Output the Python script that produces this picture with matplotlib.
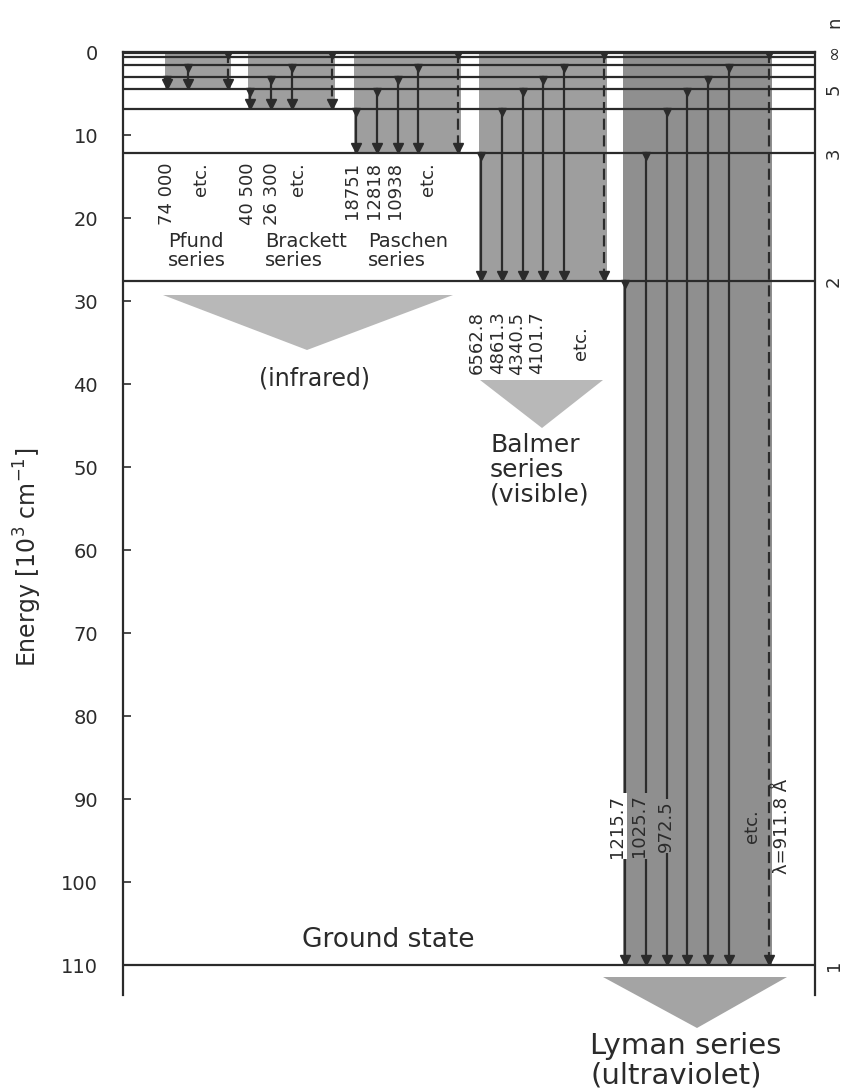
import matplotlib
matplotlib.use('Agg')
import matplotlib.pyplot as plt
from matplotlib.transforms import offset_copy

# energy of each level, measured down from the ionisation limit [10^3 cm^-1]
level_names = ['inf', 8, 7, 6, 5, 4, 3, 2, 1]
level_energy = [0.0, 0.6, 1.6, 3.0, 4.5, 6.9, 12.2, 27.6, 110.0]
E = dict(zip(level_names, level_energy))

series_names = ['Pfund', 'Brackett', 'Paschen', 'Balmer', 'Lyman']
series_lower = [5, 4, 3, 2, 1]
series_upper = [[6, 7, 'inf'],
                [5, 6, 7, 'inf'],
                [4, 5, 6, 7, 'inf'],
                [3, 4, 5, 6, 7, 'inf'],
                [2, 3, 4, 5, 6, 7, 'inf']]
series_labels = [['74 000', 'etc.'],
                 ['40 500', '26 300', 'etc.'],
                 ['18751', '12818', '10938', 'etc.'],
                 ['6562.8', '4861.3', '4340.5', '4101.7', 'etc.'],
                 ['1215.7', '1025.7', '972.5', 'etc.', 'λ=911.8 Å']]

yticks = list(range(0, 111, 10))
right_labels = ['n', '∞', '5', '3', '2', '1']
right_label_levels = [None, 'inf', 5, 3, 2, 1]

# ---- layout (pixel based x axis) ----
W, H = 847, 1091
x0, x1 = 123, 815
ytop, ybot = 52, 995
pxu = 8.3                      # pixels per 10^3 cm^-1
emax = (ybot - ytop) / pxu
col_start = [167, 250, 356, 481, 625]
step = 20.8
inf_gap = 40
lab_x = [[167, 201], [248, 272, 298], [352, 374, 395, 428],
         [477, 498, 517, 537, 581], [617, 639, 666, 752, 782]]

dark = '#2b2b2b'
shade = '#9e9e9e'

fig = plt.figure(figsize=(W / 100, H / 100), dpi=100)
ax = fig.add_axes([x0 / W, 1 - ybot / H, (x1 - x0) / W, (ybot - ytop) / H])
ax.set_xlim(x0, x1)
ax.set_ylim(emax, 0)

def e_of(py):
    return (py - ytop) / pxu

# shaded columns and transition arrows
col_x = []
for k, name in enumerate(series_names):
    ups = series_upper[k]
    xs = [col_start[k] + i * step for i in range(len(ups) - 1)]
    xs.append(xs[-1] + inf_gap)
    col_x.append(xs)
    low = E[series_lower[k]]
    c = '#8f8f8f' if name == 'Lyman' else shade
    ax.fill_between([xs[0] - 2, xs[-1] + 3], 0, low, color=c, lw=0, zorder=1)

tip = offset_copy(ax.transData, fig=fig, y=5, units='dots')
top = offset_copy(ax.transData, fig=fig, y=-3, units='dots')
for k in range(len(series_names)):
    low = E[series_lower[k]]
    for x, up in zip(col_x[k], series_upper[k]):
        ls = (0, (5, 2.5)) if up == 'inf' else '-'
        ax.plot([x, x], [E[up], low - 0.6], color=dark, lw=1.6, ls=ls, zorder=3)
        ax.plot([x], [low], marker='v', ms=7, color=dark, transform=tip, zorder=4)
        ax.plot([x], [E[up]], marker='v', ms=6, color=dark, transform=top, zorder=4)

# level lines
for n, e in zip(level_names, level_energy):
    ax.axhline(e, color=dark, lw=3 if n == 'inf' else 1.6, zorder=2)

# downward triangles for the spectral regions
tri_color = '#b8b8b8'
ax.fill([163, 453, 307], [e_of(295), e_of(295), e_of(350)], color=tri_color, lw=0)
ax.fill([480, 603, 542], [e_of(380), e_of(380), e_of(428)], color=tri_color, lw=0)
ax.fill([603, 787, 697], [e_of(977), e_of(977), e_of(1028)], color='#a4a4a4', lw=0,
        clip_on=False)

# wavelength labels
for k in range(3):
    for lab, x in zip(series_labels[k], lab_x[k]):
        ax.text(x, e_of(162), lab, rotation=90, ha='center', va='top', fontsize=13,
                color=dark)
for lab, x in zip(series_labels[3], lab_x[3]):
    ax.text(x, e_of(343), lab, rotation=90, ha='center', va='center', fontsize=13,
            color=dark)
for i, (lab, x) in enumerate(zip(series_labels[4], lab_x[4])):
    bb = None
    if i < 3:
        bb = dict(facecolor='white' if i == 0 else '#8f8f8f', edgecolor='none', pad=1)
    ax.text(x, e_of(826), lab, rotation=90, ha='center', va='center', fontsize=13,
            color=dark, bbox=bb, zorder=5)

# series names
for name, x in zip(series_names[:3], [168, 265, 368]):
    ax.text(x, e_of(232), name + '\nseries', ha='left', va='top', fontsize=14,
            color=dark, linespacing=1.0)
ax.text(314, e_of(378), '(infrared)', ha='center', va='center', fontsize=17, color=dark)
ax.text(490, e_of(433), 'Balmer\nseries\n(visible)', ha='left', va='top', fontsize=18,
        color=dark, linespacing=1.05)
ax.text(302, e_of(947), 'Ground state', ha='left', va='baseline', fontsize=19, color=dark)
ax.text(590, e_of(1032), 'Lyman series\n(ultraviolet)', ha='left', va='top', fontsize=21,
        color=dark, linespacing=1.05, clip_on=False)

# axes styling
ax.set_xticks([])
ax.set_yticks(yticks)
ax.tick_params(axis='y', direction='in', length=6, width=1.2, pad=18, labelsize=14,
               colors=dark)
ax.spines['bottom'].set_visible(False)
for s in ['left', 'right', 'top']:
    ax.spines[s].set_linewidth(1.6)
    ax.spines[s].set_color(dark)
fig.text(28 / W, 1 - 557 / H, 'Energy [10$^3$ cm$^{-1}$]', rotation=90, ha='center',
         va='center', fontsize=17, color=dark)

# level numbers at the right edge
for lab, n in zip(right_labels, right_label_levels):
    py = 22 if n is None else ytop + E[n] * pxu
    fig.text(834 / W, 1 - py / H, lab, rotation=90, ha='center', va='center',
             fontsize=13, color=dark)

fig.savefig('out.png', dpi=100)
